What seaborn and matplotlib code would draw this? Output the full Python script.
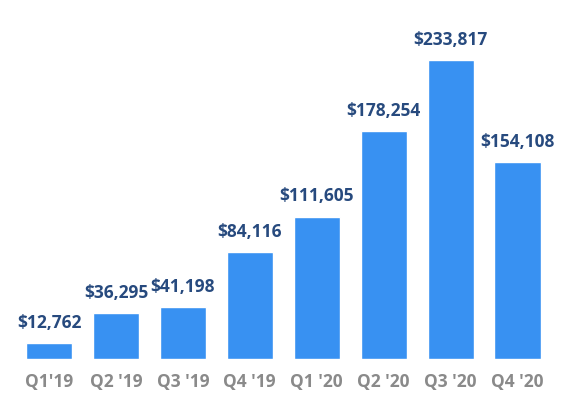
import matplotlib
matplotlib.use("Agg")
import matplotlib.pyplot as plt
import seaborn as sns
import pandas as pd

quarters = ["Q1'19", "Q2 '19", "Q3 '19", "Q4 '19", "Q1 '20", "Q2 '20", "Q3 '20", "Q4 '20"]
revenue = [12762, 36295, 41198, 84116, 111605, 178254, 233817, 154108]

BAR_COLOR = "#3891f2"
VALUE_COLOR = "#274a7e"
TICK_COLOR = "#8a8a8a"


def main():
    sns.set_style("white")
    plt.rcParams["font.family"] = ["Open Sans", "DejaVu Sans"]

    df = pd.DataFrame({"quarter": quarters, "revenue": revenue})

    fig = plt.figure(figsize=(5.64, 3.99), dpi=100)
    ax = fig.add_axes([0.0275, 0.099, 0.9495, 0.901])
    sns.barplot(data=df, x="quarter", y="revenue", color=BAR_COLOR,
                saturation=1, width=0.69, ax=ax)

    # value labels above each bar
    for i, v in enumerate(revenue):
        ax.annotate(f"${v:,}", (i, v), xytext=(0, 8), textcoords="offset points",
                    ha="center", va="bottom", fontsize=12.5, fontweight="bold",
                    color=VALUE_COLOR)

    ax.set_xlim(-0.5, len(quarters) - 0.5)
    ax.set_ylim(0, 280650)
    ax.set_xlabel("")
    ax.set_ylabel("")
    ax.set_yticks([])
    ax.tick_params(axis="x", length=0, pad=10, labelsize=12.5, labelcolor=TICK_COLOR)
    for lbl in ax.get_xticklabels():
        lbl.set_fontweight("bold")
    sns.despine(ax=ax, left=True, bottom=True)

    fig.savefig("out.png", dpi=100)
    plt.close(fig)


if __name__ == "__main__":
    main()
